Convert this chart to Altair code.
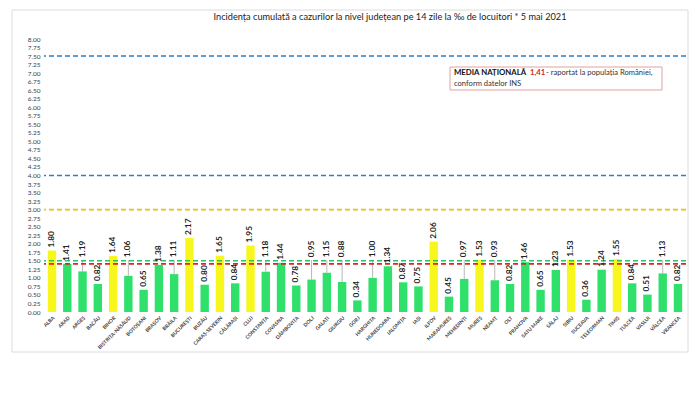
import altair as alt
import pandas as pd

counties = ["ALBA", "ARAD", "ARGEȘ", "BACĂU", "BIHOR", "BISTRIȚA-NĂSĂUD", "BOTOȘANI",
            "BRAȘOV", "BRĂILA", "BUCUREȘTI", "BUZĂU", "CARAȘ-SEVERIN", "CĂLĂRAȘI", "CLUJ",
            "CONSTANȚA", "COVASNA", "DÂMBOVIȚA", "DOLJ", "GALAȚI", "GIURGIU", "GORJ",
            "HARGHITA", "HUNEDOARA", "IALOMIȚA", "IAȘI", "ILFOV", "MARAMUREȘ", "MEHEDINȚI",
            "MUREȘ", "NEAMȚ", "OLT", "PRAHOVA", "SATU MARE", "SĂLAJ", "SIBIU", "SUCEAVA",
            "TELEORMAN", "TIMIȘ", "TULCEA", "VASLUI", "VÂLCEA", "VRANCEA"]
values = [1.80, 1.41, 1.19, 0.82, 1.64, 1.06, 0.65, 1.38, 1.11, 2.17, 0.80, 1.65, 0.84, 1.95,
          1.18, 1.44, 0.78, 0.95, 1.15, 0.88, 0.34, 1.00, 1.34, 0.87, 0.75, 2.06, 0.45, 0.97,
          1.53, 0.93, 0.82, 1.46, 0.65, 1.23, 1.53, 0.36, 1.24, 1.55, 0.84, 0.51, 1.13, 0.82]

threshold_values = [7.5, 4.0, 3.0, 1.5]
threshold_colors = ["#2f7fc1", "#2f7fc1", "#f2c000", "#2fbf6a"]
national_mean = 1.41
y_ticks = [i * 0.25 for i in range(33)]

title_text = "Incidența cumulată a cazurilor la nivel județean pe 14 zile la ‰ de locuitori *  5 mai 2021"

df = pd.DataFrame({"judet": counties, "v": values})
df["label"] = df["v"].map(lambda x: f"{x:.2f}")
df["grp"] = df["v"].map(lambda x: "high" if x > 1.5 else "low")
df["moved"] = df["v"].map(lambda x: 0.88 <= x <= 1.2)
df["label_at"] = [1.52 if m else v for v, m in zip(df["v"], df["moved"])]

W, H = 642, 273
FONT = "Lato"

xscale = alt.Scale(paddingInner=0.45, paddingOuter=0.25)
xaxis = alt.Axis(title=None, labelAngle=-45, labelFontSize=5, labelColor="#404040",
                 labelFontWeight="bold", domain=False, ticks=False, labelPadding=3,
                 labelFont=FONT, labelOverlap=False)
yscale = alt.Scale(domain=[0, 8], nice=False)
yaxis = alt.Axis(title=None, values=y_ticks, format=".2f", labelFontSize=6.5,
                 labelColor="#404040", grid=False, domain=False, ticks=False,
                 labelPadding=4, labelFont=FONT, labelOverlap=False, labelFlush=False)

def X():
    return alt.X("judet:N", sort=counties, scale=xscale, axis=xaxis)

def Y(field):
    return alt.Y(field, scale=yscale, axis=yaxis)

base = alt.Chart(df)

bars = base.mark_bar().encode(
    x=X(),
    y=Y("v:Q"),
    color=alt.Color("grp:N", scale=alt.Scale(domain=["high", "low"],
                                             range=["#f7f71e", "#2fe06b"]), legend=None),
)

leaders = base.transform_filter("datum.moved").mark_rule(color="#a6a6a6", strokeWidth=0.8).encode(
    x=X(),
    y=Y("v:Q"),
    y2="label_at:Q",
)

ref_df = pd.DataFrame({"y": threshold_values, "c": threshold_colors})
ref_lines = alt.Chart(ref_df).mark_rule(strokeDash=[5, 3], strokeWidth=1.6, opacity=1).encode(
    y=Y("y:Q"),
    color=alt.Color("c:N", scale=None, legend=None),
)
nat_df = pd.DataFrame({"y": [national_mean]})
nat_line = alt.Chart(nat_df).mark_rule(strokeDash=[5, 3], strokeWidth=1.8, color="#e02424").encode(
    y=Y("y:Q"),
)

labels = base.mark_text(angle=270, align="left", baseline="middle", dx=3, fontSize=8.3,
                        fontWeight="bold", font=FONT, color="#222222").encode(
    x=X(),
    y=Y("label_at:Q"),
    text="label:N",
)

frame = alt.Chart(nat_df).mark_rect(fill=None, stroke="#dcdcdc", strokeWidth=1).encode(
    x=alt.value(-32), x2=alt.value(644), y=alt.value(-29), y2=alt.value(313))

title = alt.Chart(nat_df).mark_text(fontSize=9.2, font=FONT, color="#1a1a1a",
                                     align="center", baseline="middle").encode(
    x=alt.value(346), y=alt.value(-22), text=alt.value(title_text))

box = alt.Chart(nat_df).mark_rect(fill="white", stroke="#e2a0a0", strokeWidth=1).encode(
    x=alt.value(406), x2=alt.value(618), y=alt.value(28), y2=alt.value(51))
t1 = alt.Chart(nat_df).mark_text(fontSize=7.8, font=FONT, fontWeight="bold", color="#111111",
                                  align="left", baseline="middle").encode(
    x=alt.value(410), y=alt.value(34), text=alt.value("MEDIA NAȚIONALĂ"))
t2 = alt.Chart(nat_df).mark_text(fontSize=7.8, font=FONT, fontWeight="bold", color="#e02424",
                                  align="left", baseline="middle").encode(
    x=alt.value(486), y=alt.value(34), text=alt.value("1,41"))
t3 = alt.Chart(nat_df).mark_text(fontSize=7.6, font=FONT, color="#333333",
                                  align="left", baseline="middle").encode(
    x=alt.value(502), y=alt.value(34), text=alt.value("- raportat la populația României,"))
t4 = alt.Chart(nat_df).mark_text(fontSize=7.6, font=FONT, color="#333333",
                                  align="left", baseline="middle").encode(
    x=alt.value(410), y=alt.value(45), text=alt.value("conform datelor INS"))

chart = alt.layer(frame, bars, leaders, ref_lines, nat_line, labels, title, box, t1, t2, t3, t4).properties(
    width=W, height=H,
    autosize=alt.AutoSizeParams(type="none"),
    padding={"left": 36, "top": 31, "right": 6, "bottom": 50},
    background="white",
).configure_view(stroke=None)

chart.save("out.html", embed_options={"renderer": "svg", "actions": False})
